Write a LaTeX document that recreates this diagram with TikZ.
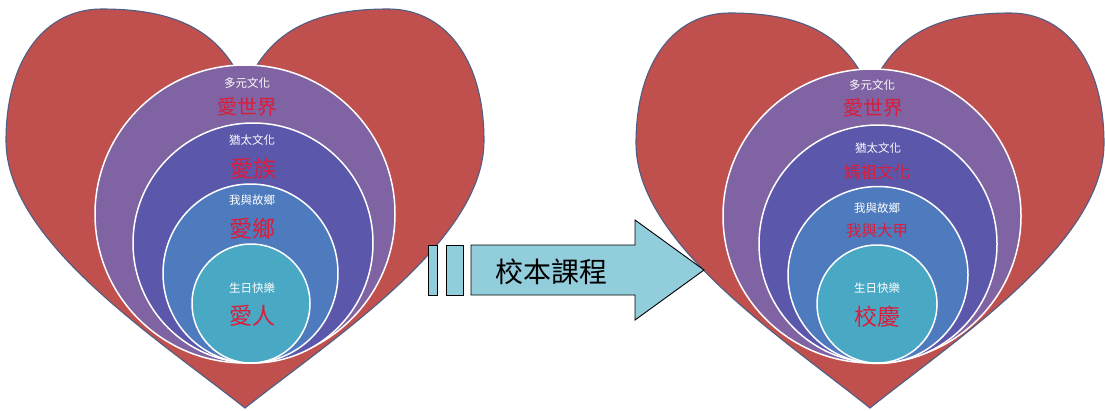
\documentclass[tikz,border=0pt]{standalone}
\usepackage{fontspec}
\newfontfamily\cjk{Noto Sans CJK TC}
\usetikzlibrary{positioning}
\definecolor{heartred}{HTML}{C0504D}
\definecolor{heartedge}{HTML}{4E5E85}
\definecolor{ringa}{HTML}{7F63A2}
\definecolor{ringb}{HTML}{5B57AB}
\definecolor{ringc}{HTML}{4D7BBE}
\definecolor{ringd}{HTML}{49A9C5}
\definecolor{wordred}{HTML}{D81E3C}
\definecolor{arrowblue}{HTML}{92CDDC}

\tikzset{
  heart/.style={fill=heartred,draw=heartedge,line width=1.1pt},
  ring/.style={draw=white,line width=1.5pt},
  tag/.style={text=white,font=\cjk\fontsize{11.5}{12}\selectfont,inner sep=0pt},
  theme/.style={text=wordred,font=\cjk\fontsize{#1}{#1}\selectfont,inner sep=0pt},
  bar/.style={fill=arrowblue,draw=black,line width=0.9pt}
}

\begin{document}
\begin{tikzpicture}[x=1pt,y=-1pt]
  \useasboundingbox (0,0) rectangle (1105,410);

  \coordinate (lbot) at (245,408);
  \coordinate (rbot) at (870,408);

  % the two hearts
  \foreach \b/\w/\h in {lbot/239/399,rbot/234/395} {
    \begin{scope}[shift={(\b)},xscale=\w,yscale=-\h]
      \draw[heart] (0,0) .. controls (-0.38,0.18) and (-1,0.42) .. (-1,0.67)
        .. controls (-1,0.88) and (-0.83,1) .. (-0.6,1)
        .. controls (-0.3,1) and (-0.1,0.95) .. (0,0.8)
        .. controls (0.1,0.95) and (0.3,1) .. (0.6,1)
        .. controls (0.83,1) and (1,0.88) .. (1,0.67)
        .. controls (1,0.42) and (0.38,0.18) .. (0,0) -- cycle;
    \end{scope}
  }

  % nested rings
  \foreach \cx/\cy/\rx/\ry/\col in {245/214/150/149/ringa,253/243/120/120/ringb,250.5/273.5/87.5/89.5/ringc,251/303.5/59/59.5/ringd,
    872/216/149/147/ringa,878/244/119/119/ringb,878/275/90/88.5/ringc,877/304/60/59/ringd}
    \draw[ring,fill=\col] (\cx,\cy) ellipse [x radius=\rx,y radius=\ry];

  % left heart texts
  \node[tag] (lworld) at (247,83) {多元文化};
  \node[theme=20] (lworldred) at (247,107) {愛世界};
  \node[tag] (ljew) at (252,140) {猶太文化};
  \node[theme=23] (ljewred) at (253,169) {愛族};
  \node[tag] (lhome) at (252,200) {我與故鄉};
  \node[theme=23] (lhomered) at (252,229) {愛鄉};
  \node[tag] (lbday) at (252,288) {生日快樂};
  \node[theme=23] (lbdayred) at (252,316) {愛人};

  % right heart texts
  \node[tag] (rworld) at (872,85) {多元文化};
  \node[theme=20] (rworldred) at (873,108) {愛世界};
  \node[tag] (rjew) at (878,148) {猶太文化};
  \node[theme=16.5] (rjewred) at (877,172) {媽祖文化};
  \node[tag] (rhome) at (877,208) {我與故鄉};
  \node[theme=15.5] (rhomered) at (877,231) {我與大甲};
  \node[tag] (rbday) at (877,288) {生日快樂};
  \node[theme=23] (rbdayred) at (877,317) {校慶};

  % arrow with the two stripes
  \draw[bar] (428,245) rectangle (437,295);
  \draw[bar] (446,245) rectangle (463,295);
  \draw[bar] (471,245) -- (635,245) -- (635,220) -- (704,270) -- (635,320) -- (635,295) -- (471,295) -- cycle;
  \node[font=\cjk\fontsize{28}{28}\selectfont,inner sep=0pt] (course) at (551,272) {校本課程};
\end{tikzpicture}
\end{document}
